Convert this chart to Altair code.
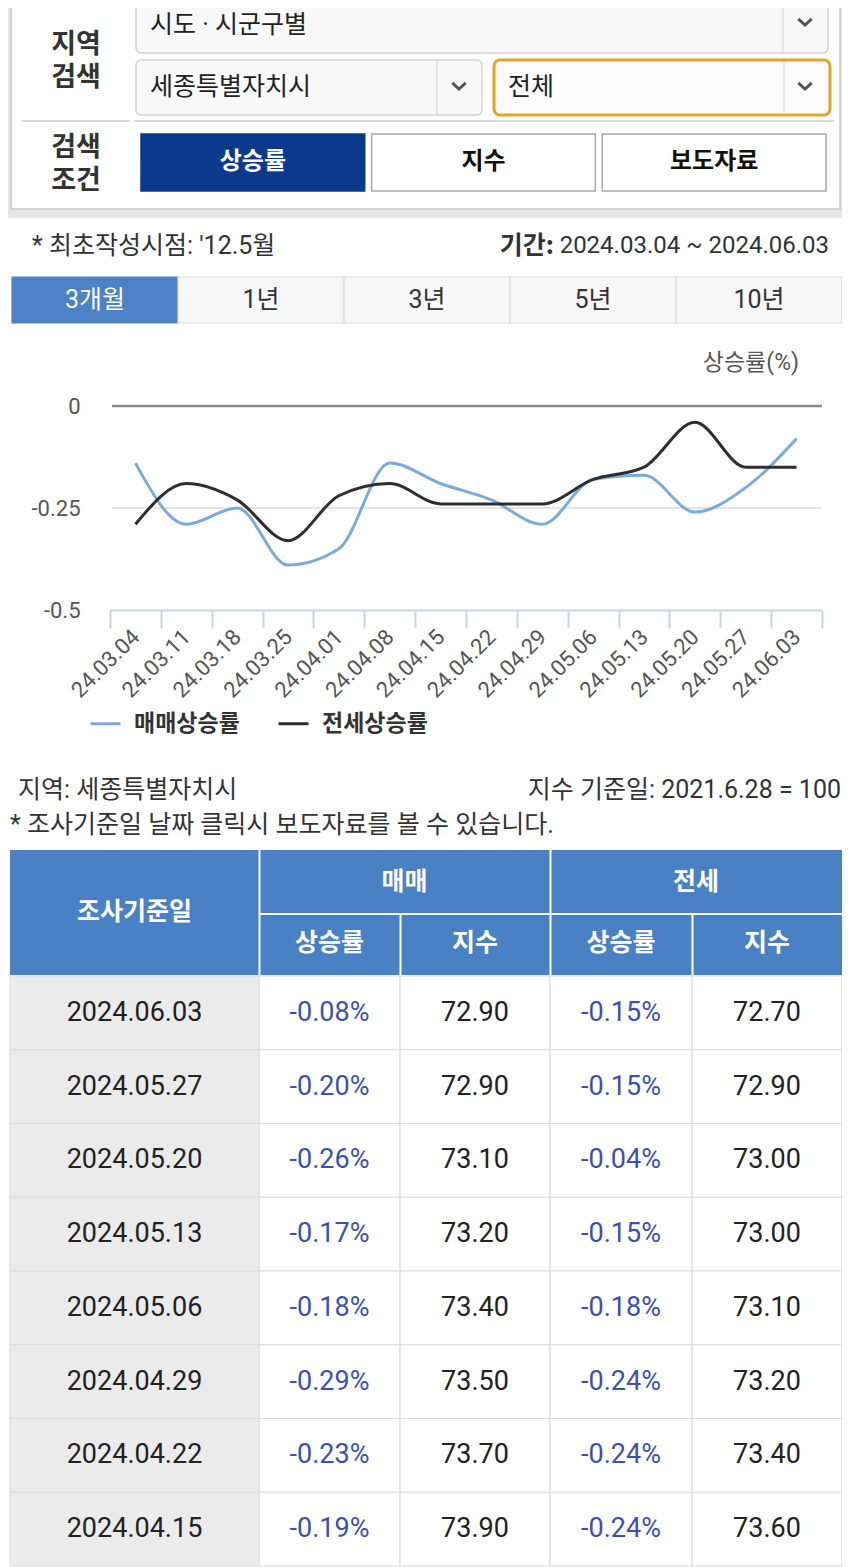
import altair as alt
import pandas as pd

# ---------------- data ----------------
CHART_DATES = ["24.03.04", "24.03.11", "24.03.18", "24.03.25", "24.04.01", "24.04.08", "24.04.15",
               "24.04.22", "24.04.29", "24.05.06", "24.05.13", "24.05.20", "24.05.27", "24.06.03"]
SALE_RATE = [-0.14, -0.29, -0.25, -0.39, -0.35, -0.14, -0.19, -0.23, -0.29, -0.18, -0.17, -0.26, -0.20, -0.08]
JEONSE_RATE = [-0.29, -0.19, -0.23, -0.33, -0.22, -0.19, -0.24, -0.24, -0.24, -0.18, -0.15, -0.04, -0.15, -0.15]
SERIES = ["매매상승률", "전세상승률"]
Y_TICKS = [0, -0.25, -0.5]
Y_TITLE = "상승률(%)"

TABLE_DATES = ["2024.06.03", "2024.05.27", "2024.05.20", "2024.05.13",
               "2024.05.06", "2024.04.29", "2024.04.22", "2024.04.15"]
T_SALE_RATE = [-0.08, -0.20, -0.26, -0.17, -0.18, -0.29, -0.23, -0.19]
T_SALE_INDEX = [72.90, 72.90, 73.10, 73.20, 73.40, 73.50, 73.70, 73.90]
T_JEONSE_RATE = [-0.15, -0.15, -0.04, -0.15, -0.18, -0.24, -0.24, -0.24]
T_JEONSE_INDEX = [72.70, 72.90, 73.00, 73.00, 73.10, 73.20, 73.40, 73.60]

FORM_LABELS = ["지역\n검색", "검색\n조건"]
SELECT_TEXTS = ["시도 · 시군구별", "세종특별자치시", "전체"]
BUTTONS = ["상승률", "지수", "보도자료"]
TABS = ["3개월", "1년", "3년", "5년", "10년"]
NOTE_FIRST = "* 최초작성시점: '12.5월"
PERIOD_LABEL = "기간:"
PERIOD = "2024.03.04 ~ 2024.06.03"
REGION_NOTE = "지역: 세종특별자치시"
BASE_NOTE = "지수 기준일: 2021.6.28 = 100"
CLICK_NOTE = "* 조사기준일 날짜 클릭시 보도자료를 볼 수 있습니다."
HEAD_TOP = ["조사기준일", "매매", "전세"]
HEAD_SUB = ["상승률", "지수", "상승률", "지수"]

# ---------------- layout (page pixels) ----------------
OFF = 8
W, H = 834, 1559
PX = alt.Scale(domain=[OFF, OFF + W], range=[0, W], nice=False, zero=False)
PY = alt.Scale(domain=[OFF, OFF + H], range=[0, H], nice=False, zero=False)
FONT = "Roboto, Noto Sans CJK KR, sans-serif"
KFONT = "Noto Sans CJK KR, sans-serif"


def boxes(rows, **mark):
    df = pd.DataFrame(rows, columns=["x0", "y0", "x1", "y1"])
    return alt.Chart(df).mark_rect(**mark).encode(
        x=alt.X("x0:Q", scale=PX, axis=None), x2="x1:Q",
        y=alt.Y("y0:Q", scale=PY, axis=None), y2="y1:Q")


def vlines(rows, **mark):
    df = pd.DataFrame(rows, columns=["x", "y0", "y1"])
    return alt.Chart(df).mark_rule(**mark).encode(
        x=alt.X("x:Q", scale=PX, axis=None),
        y=alt.Y("y0:Q", scale=PY, axis=None), y2="y1:Q")


def hlines(rows, **mark):
    df = pd.DataFrame(rows, columns=["x0", "x1", "y"])
    return alt.Chart(df).mark_rule(**mark).encode(
        x=alt.X("x0:Q", scale=PX, axis=None), x2="x1:Q",
        y=alt.Y("y:Q", scale=PY, axis=None))


def labels(rows, **mark):
    df = pd.DataFrame(rows, columns=["t", "x", "y"])
    mark.setdefault("font", FONT)
    return alt.Chart(df).mark_text(baseline="middle", **mark).encode(
        x=alt.X("x:Q", scale=PX, axis=None),
        y=alt.Y("y:Q", scale=PY, axis=None), text="t:N")


def chevrons(rows):
    df = pd.DataFrame(rows, columns=["x", "y"])
    return alt.Chart(df).mark_point(shape="M-1,-0.45L0,0.45L1,-0.45", filled=False,
                                    strokeWidth=3, color="#555555", size=180, opacity=1).encode(
        x=alt.X("x:Q", scale=PX, axis=None), y=alt.Y("y:Q", scale=PY, axis=None))


layers = []

# ---- search form ----
layers.append(boxes([(0, 0, 850, 218)], color="#e6e6e6"))
layers.append(boxes([(11, -6, 840, 209)], fill="#ffffff", stroke="#c9c9c9", strokeWidth=1.5))
layers.append(boxes([(136, -6, 828, 53), (136, 60, 482, 115)], fill="#f9f9f9", stroke="#d3d3d3",
                    strokeWidth=1.5, cornerRadius=5))
layers.append(boxes([(494, 60, 830, 115)], fill="#fbfbfb", stroke="#e2a42b", strokeWidth=3, cornerRadius=6))
layers.append(vlines([(783, -6, 53), (437, 61, 114), (784, 62, 113)], color="#dedede", strokeWidth=1.5))
layers.append(chevrons([(805, 22), (459, 86), (805, 86)]))
layers.append(hlines([(22, 130, 121), (134, 834, 121)], color="#cfcfcf", strokeWidth=1.5))
layers.append(labels(list(zip(FORM_LABELS, [76, 76], [44.5, 147.5])),
                     fontSize=27, fontWeight="bold", color="#333333", font=KFONT,
                     lineBreak="\n", lineHeight=33))
layers.append(labels(list(zip(SELECT_TEXTS, [150, 150, 508], [25, 87, 87])),
                     align="left", fontSize=25, color="#222222"))

BTN_X = alt.Scale(type="band", domain=BUTTONS, range=[141 - OFF, 826 - OFF], paddingInner=0.03, paddingOuter=0)
btn_df = pd.DataFrame({"label": BUTTONS})
sel_btn = alt.datum.label == BUTTONS[0]
layers.append(alt.Chart(btn_df).mark_rect(strokeWidth=1.5).encode(
    x=alt.X("label:N", scale=BTN_X, sort=BUTTONS, axis=None),
    y=alt.value(134 - OFF), y2=alt.value(191 - OFF),
    fill=alt.when(sel_btn).then(alt.value("#0b3a8c")).otherwise(alt.value("#ffffff")),
    stroke=alt.when(sel_btn).then(alt.value("#0b3a8c")).otherwise(alt.value("#a8a8a8"))))
layers.append(alt.Chart(btn_df).mark_text(fontSize=24, fontWeight="bold", font=KFONT, baseline="middle").encode(
    x=alt.X("label:N", scale=BTN_X, sort=BUTTONS, axis=None),
    y=alt.value(162 - OFF), text="label:N",
    color=alt.when(sel_btn).then(alt.value("#ffffff")).otherwise(alt.value("#111111"))))

# ---- info line + tabs ----
layers.append(labels([(NOTE_FIRST, 32, 246)], align="left", fontSize=25, color="#333333"))
layers.append(labels([(PERIOD, 829, 246)], align="right", fontSize=24, color="#333333"))
layers.append(labels([(PERIOD_LABEL, 554, 246)], align="right", fontSize=25, fontWeight="bold",
                     color="#333333", font=KFONT))

TAB_X = alt.Scale(type="band", domain=TABS, range=[12 - OFF, 842 - OFF], paddingInner=0, paddingOuter=0)
tab_df = pd.DataFrame({"label": TABS})
sel_tab = alt.datum.label == TABS[0]
layers.append(alt.Chart(tab_df).mark_rect(strokeWidth=1.2).encode(
    x=alt.X("label:N", scale=TAB_X, sort=TABS, axis=None),
    y=alt.value(277 - OFF), y2=alt.value(323 - OFF),
    fill=alt.when(sel_tab).then(alt.value("#4d82c6")).otherwise(alt.value("#f7f7f7")),
    stroke=alt.when(sel_tab).then(alt.value("#4d82c6")).otherwise(alt.value("#dddddd"))))
layers.append(alt.Chart(tab_df).mark_text(fontSize=25, font=FONT, baseline="middle").encode(
    x=alt.X("label:N", scale=TAB_X, sort=TABS, axis=None),
    y=alt.value(300 - OFF), text="label:N",
    color=alt.when(sel_tab).then(alt.value("#ffffff")).otherwise(alt.value("#333333"))))

# ---- line chart ----
n = len(CHART_DATES)
chart_df = pd.DataFrame({
    "date": CHART_DATES * 2,
    "series": [SERIES[0]] * n + [SERIES[1]] * n,
    "value": SALE_RATE + JEONSE_RATE,
})
XB = alt.Scale(type="band", domain=CHART_DATES, range=[110 - OFF, 822 - OFF], paddingInner=0, paddingOuter=0)
YV = alt.Scale(domain=[-0.5, 0], range=[610 - OFF, 406 - OFF], nice=False, zero=False)

grid_df = pd.DataFrame({"v": [v for v in Y_TICKS if v > -0.5]})
is_zero = alt.datum.v == 0
layers.append(alt.Chart(grid_df).mark_rule().encode(
    x=alt.value(112 - OFF), x2=alt.value(822 - OFF),
    y=alt.Y("v:Q", scale=YV, axis=None),
    color=alt.when(is_zero).then(alt.value("#8c8c8c")).otherwise(alt.value("#dcdcdc")),
    strokeWidth=alt.when(is_zero).then(alt.value(2.5)).otherwise(alt.value(1.5))))

layers.append(alt.Chart(chart_df).mark_line(interpolate="monotone", strokeWidth=3).encode(
    x=alt.X("date:N", sort=CHART_DATES, scale=XB, axis=alt.Axis(
        orient="bottom", offset=(610 - OFF) - H, tickBand="extent", title=None, grid=False,
        domainColor="#c8d5e2", domainWidth=2, tickColor="#c8d5e2", tickWidth=2, tickSize=18,
        labelAngle=315, labelAlign="right", labelBaseline="middle", labelFontSize=22,
        labelColor="#555555", labelPadding=5, labelOverlap=False, labelBound=False, labelFont=FONT)),
    y=alt.Y("value:Q", scale=YV, axis=alt.Axis(
        orient="left", offset=-(80 - OFF), values=Y_TICKS, labelExpr="toString(datum.value)",
        ticks=False, domain=False, grid=False, labelPadding=0, labelFontSize=22,
        labelColor="#555555", title=None, labelFont=FONT)),
    color=alt.Color("series:N", scale=alt.Scale(domain=SERIES, range=["#79acdc", "#2e2e2e"]),
                    legend=alt.Legend(orient="none", legendX=89 - OFF, legendY=707 - OFF,
                                      direction="horizontal", title=None, symbolType="stroke",
                                      symbolSize=900, symbolStrokeWidth=3, labelFontSize=23,
                                      labelFontWeight="bold", labelColor="#333333", labelFont=KFONT,
                                      columnPadding=32, labelOffset=12, padding=0))))
layers.append(labels([(Y_TITLE, 799, 363)], align="right", fontSize=23, color="#555555"))

# ---- notes ----
layers.append(labels([(REGION_NOTE, 18, 790), (CLICK_NOTE, 10, 825)], align="left", fontSize=25, color="#333333"))
layers.append(labels([(BASE_NOTE, 841, 790)], align="right", fontSize=25, color="#333333"))

# ---- table ----
COL_EDGES = [10, 259, 400, 550, 692, 842]
layers.append(boxes([(10, 850, 842, 975)], color="#4a80c4"))
layers.append(vlines([(259.5, 850, 975), (550.5, 850, 975), (400.5, 914, 975), (692.5, 914, 975)],
                     color="#ffffff", strokeWidth=2))
layers.append(hlines([(260, 842, 914)], color="#ffffff", strokeWidth=2))
centers = [(COL_EDGES[i] + COL_EDGES[i + 1]) / 2 for i in range(5)]
head_rows = [(HEAD_TOP[0], centers[0], 912), (HEAD_TOP[1], (COL_EDGES[1] + COL_EDGES[3]) / 2, 882),
             (HEAD_TOP[2], (COL_EDGES[3] + COL_EDGES[5]) / 2, 882)]
head_rows += [(HEAD_SUB[i], centers[i + 1], 943) for i in range(4)]
layers.append(labels(head_rows, fontSize=25, fontWeight="bold", color="#ffffff", font=KFONT))

col_texts = [TABLE_DATES,
             [f"{v:.2f}%" for v in T_SALE_RATE],
             [f"{v:.2f}" for v in T_SALE_INDEX],
             [f"{v:.2f}%" for v in T_JEONSE_RATE],
             [f"{v:.2f}" for v in T_JEONSE_INDEX]]
kinds = ["date", "rate", "index", "rate", "index"]
body_rows = []
for r, d in enumerate(TABLE_DATES):
    for c in range(5):
        body_rows.append({"row": d, "col": c, "x0": COL_EDGES[c], "x1": COL_EDGES[c + 1],
                          "xc": centers[c], "t": col_texts[c][r], "kind": kinds[c]})
body = pd.DataFrame(body_rows)
ROWS = alt.Scale(type="band", domain=TABLE_DATES, range=[976 - OFF, 1566 - OFF], paddingInner=0, paddingOuter=0)
layers.append(alt.Chart(body).mark_rect(strokeWidth=1.2).encode(
    x=alt.X("x0:Q", scale=PX, axis=None), x2="x1:Q",
    y=alt.Y("row:N", scale=ROWS, sort=TABLE_DATES, axis=None),
    fill=alt.when(alt.datum.col == 0).then(alt.value("#ebebeb")).otherwise(alt.value("#ffffff")),
    stroke=alt.value("#dcdcdc")))
layers.append(alt.Chart(body).mark_text(fontSize=27, font=FONT, baseline="middle").encode(
    x=alt.X("xc:Q", scale=PX, axis=None),
    y=alt.Y("row:N", scale=ROWS, sort=TABLE_DATES, axis=None),
    text="t:N",
    color=alt.when(alt.datum.kind == "rate").then(alt.value("#3d4fb0")).otherwise(alt.value("#222222"))))

chart = alt.layer(*layers).resolve_scale(
    x="independent", y="independent"
).properties(
    width=W, height=H, padding=0, autosize=alt.AutoSizeParams(type="none"), background="#ffffff"
).configure_view(stroke=None)

chart.save("out.html", embed_options={"renderer": "svg", "actions": False})
